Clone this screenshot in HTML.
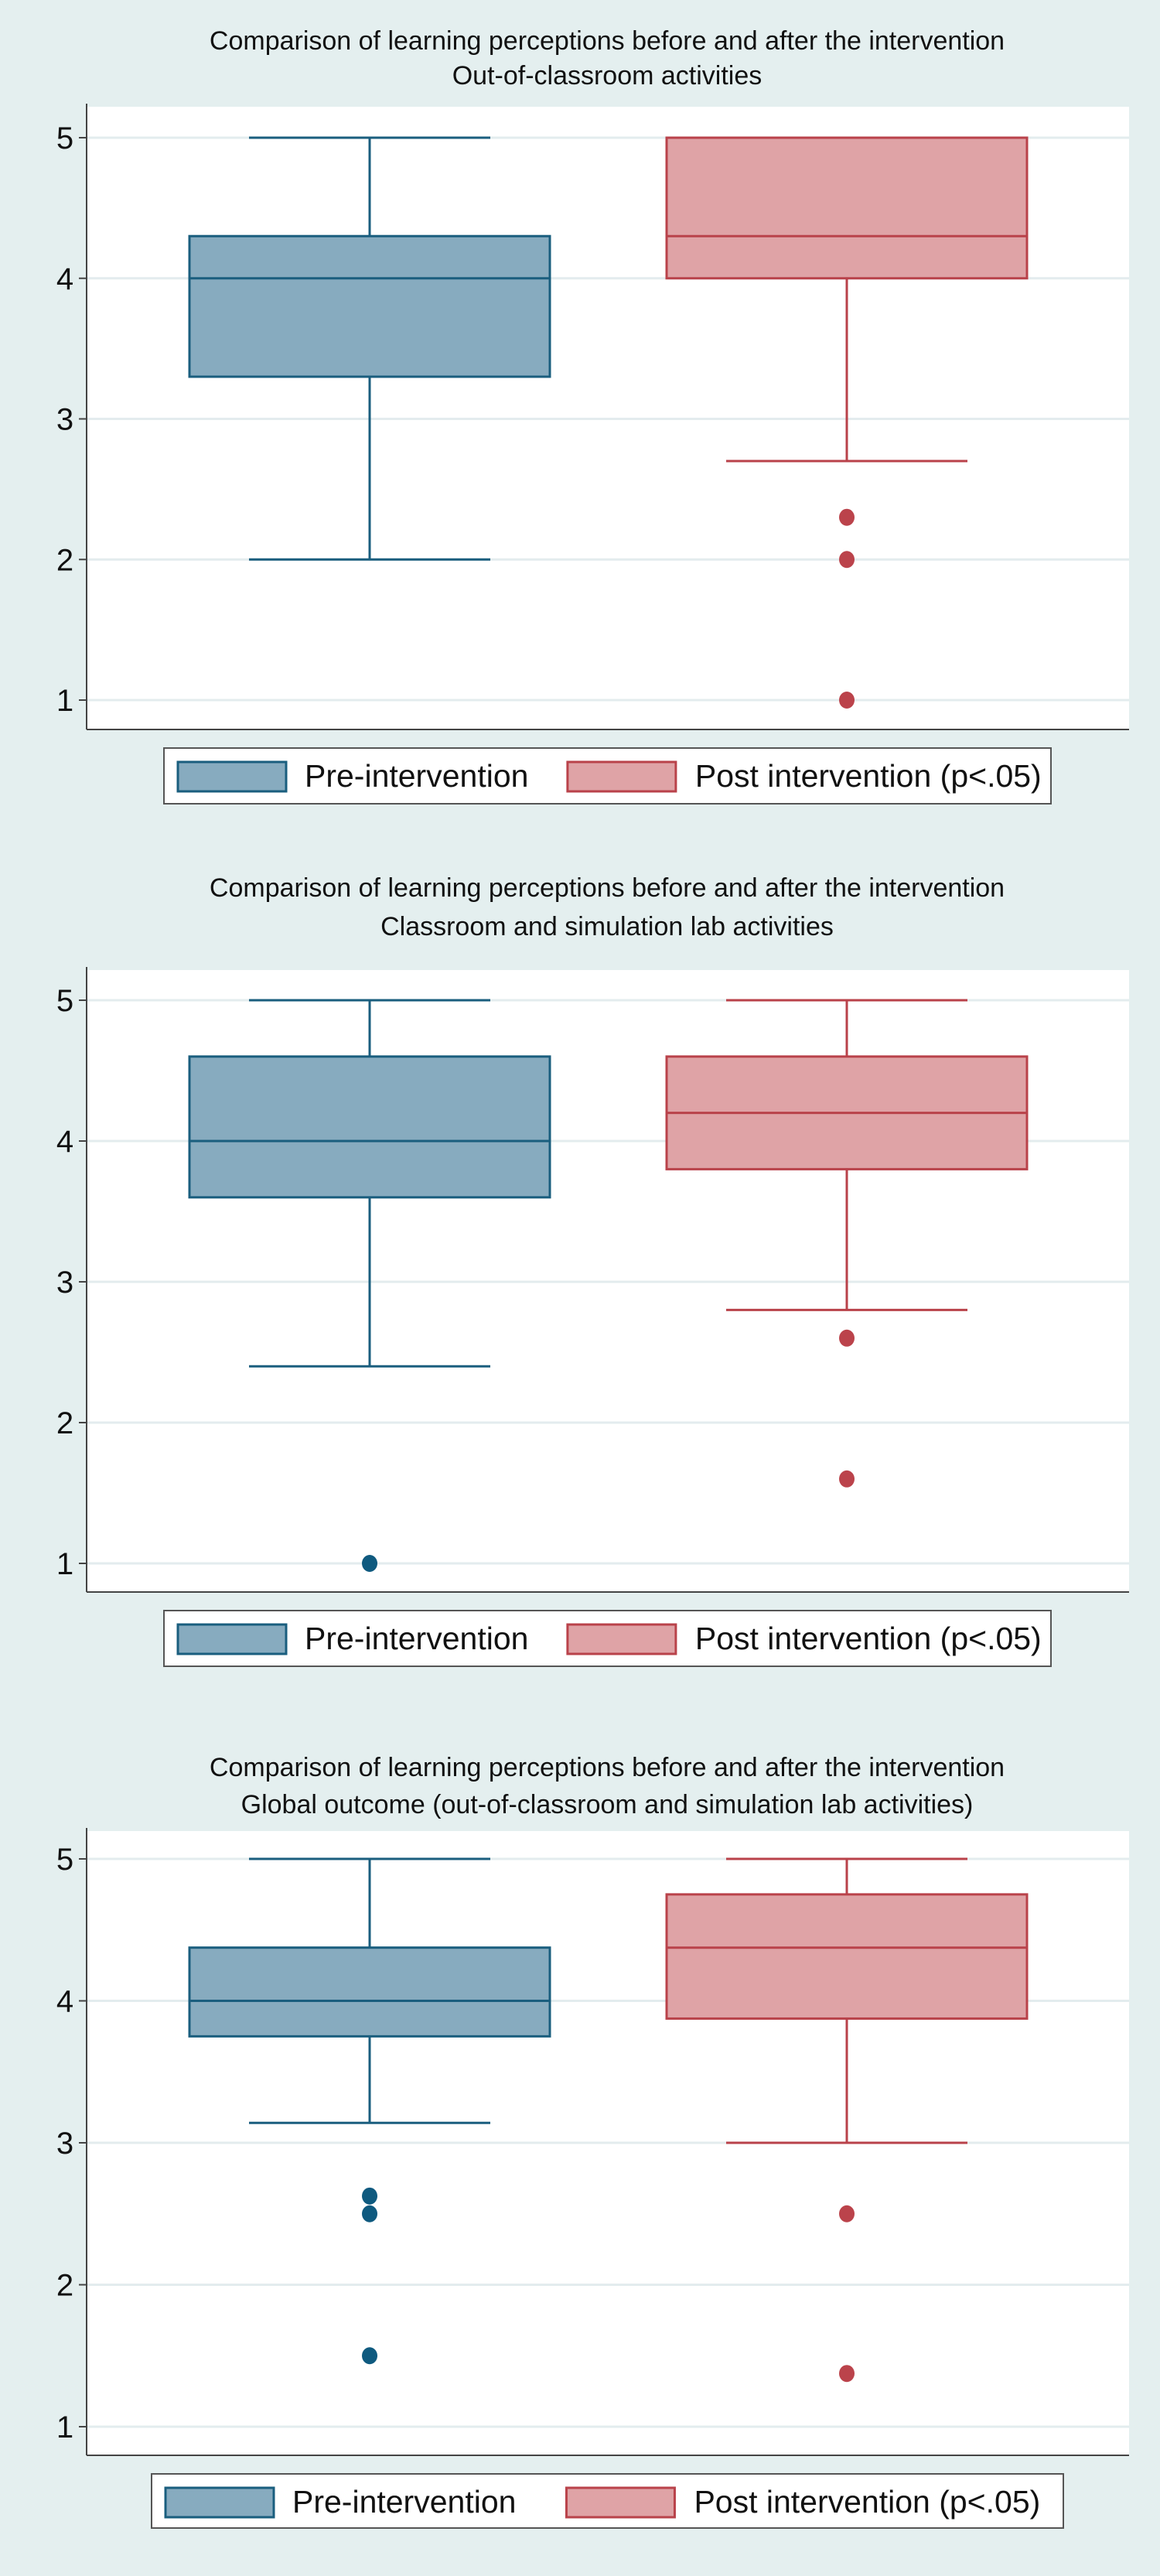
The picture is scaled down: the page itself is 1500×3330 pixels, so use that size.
<!DOCTYPE html>
<html><head><meta charset="utf-8">
<style>
html,body{margin:0;padding:0;background:#e4efef;}
svg{display:block;}
text{font-family:"Liberation Sans",sans-serif;}
</style></head>
<body>
<svg id="root" width="1500" height="3330" viewBox="0 0 1500 3330" xmlns="http://www.w3.org/2000/svg">
<rect x="0" y="0" width="1500" height="3330" fill="#e4efef"/>
</svg>
<script>
// Chart data
const chartTitles = ["Out-of-classroom activities", "Classroom and simulation lab activities", "Global outcome (out-of-classroom and simulation lab activities)"];
const groupNames = ["Pre-intervention", "Post intervention (p<.05)"];
const yTicks = [1, 2, 3, 4, 5];
// [whiskerLow, q1, median, q3, whiskerHigh] per chart per group
const preStats = [[2, 3.3, 4, 4.3, 5], [2.4, 3.6, 4, 4.6, 5], [3.14, 3.75, 4, 4.375, 5]];
const postStats = [[2.7, 4, 4.3, 5, 5], [2.8, 3.8, 4.2, 4.6, 5], [3, 3.875, 4.375, 4.75, 5]];
const preOutliers = [[], [1], [2.625, 2.5, 1.5]];
const postOutliers = [[2.3, 2, 1], [2.6, 1.6], [2.5, 1.375]];

const layouts = [
  {t1:53,t2:98,top:138,bottom:943,y5:178,y1:905,lg:[212,967,1147,72]},
  {t1:1148,t2:1198,top:1254,bottom:2058,y5:1293,y1:2021,lg:[212,2082,1147,72]},
  {t1:2285,t2:2333,top:2367,bottom:3174,y5:2403,y1:3137,lg:[196,3198,1179,70]}
];
const NS="http://www.w3.org/2000/svg";
const root=document.getElementById('root');
function mk(tag,attrs,parent){const e=document.createElementNS(NS,tag);for(const k in attrs)e.setAttribute(k,attrs[k]);(parent||root).appendChild(e);return e;}
const colors=[{fill:"#87abbf",stroke:"#1a5e7e",dot:"#0f5a7f"},{fill:"#dfa3a6",stroke:"#b9424a",dot:"#bb434b"}];
const centers=[478,1095], halfBox=233, halfCap=156, left=112, right=1460;

layouts.forEach((L,ci)=>{
  const g=mk('g',{});
  
  
  const yS=v=>L.y1+(v-1)*(L.y5-L.y1)/4;
  let t=mk('text',{x:785,y:L.t1+11,'font-size':34,'text-anchor':'middle',fill:'#111'},g);
  t.textContent="Comparison of learning perceptions before and after the intervention";
  
  
  t=mk('text',{x:785,y:L.t2+11,'font-size':34,'text-anchor':'middle',fill:'#111'},g);
  t.textContent=chartTitles[ci];
  
  
  const pa=mk('rect',{x:left,y:L.top,width:right-left,height:L.bottom-L.top,fill:'#fff'},g);
  
  
  yTicks.forEach(v=>{
    const y=yS(v);
    const gl=mk('line',{x1:left,x2:right,y1:y,y2:y,stroke:'#e3ecee','stroke-width':3},g);
    
    
    mk('line',{x1:left-10,x2:left,y1:y,y2:y,stroke:'#444','stroke-width':2},g);
    const tl=mk('text',{x:84,y:y+14,'font-size':40,'text-anchor':'middle',fill:'#111'},g);
    tl.textContent=v;
    
    
  });
  mk('line',{x1:left,x2:left,y1:L.top-4,y2:L.bottom,stroke:'#444','stroke-width':2},g);
  mk('line',{x1:left,x2:right,y1:L.bottom,y2:L.bottom,stroke:'#444','stroke-width':2},g);
  [preStats[ci],postStats[ci]].forEach((s,gi)=>{
    const c=colors[gi],cx=centers[gi];
    const bg=mk('g',{},g);
    
    
    mk('line',{x1:cx,x2:cx,y1:yS(s[0]),y2:yS(s[1]),stroke:c.stroke,'stroke-width':3},bg);
    mk('line',{x1:cx,x2:cx,y1:yS(s[3]),y2:yS(s[4]),stroke:c.stroke,'stroke-width':3},bg);
    mk('line',{x1:cx-halfCap,x2:cx+halfCap,y1:yS(s[0]),y2:yS(s[0]),stroke:c.stroke,'stroke-width':3},bg);
    mk('line',{x1:cx-halfCap,x2:cx+halfCap,y1:yS(s[4]),y2:yS(s[4]),stroke:c.stroke,'stroke-width':3},bg);
    mk('rect',{x:cx-halfBox,y:yS(s[3]),width:2*halfBox,height:yS(s[1])-yS(s[3]),fill:c.fill,stroke:c.stroke,'stroke-width':3},bg);
    mk('line',{x1:cx-halfBox,x2:cx+halfBox,y1:yS(s[2]),y2:yS(s[2]),stroke:c.stroke,'stroke-width':3},bg);
    (gi?postOutliers[ci]:preOutliers[ci]).forEach(v=>{
      const d=mk('ellipse',{cx:cx,cy:yS(v),rx:10,ry:11,fill:c.dot},bg);
      
      
    });
  });
  const [lx,ly,lw,lh]=L.lg;
  const lg=mk('g',{},g);
  
  
  mk('rect',{x:lx,y:ly,width:lw,height:lh,fill:'#fff',stroke:'#555','stroke-width':2},lg);
  const sx=[lx+18,lx+lw*0.455], tx=[lx+182,lx+lw*0.455+165];
  groupNames.forEach((n,gi)=>{
    const r=mk('rect',{x:sx[gi],y:ly+18,width:140,height:38,fill:colors[gi].fill,stroke:colors[gi].stroke,'stroke-width':3},lg);
    
    
    const tt=mk('text',{x:tx[gi],y:ly+50,'font-size':41,fill:'#111'},lg);
    tt.textContent=n;
    
    
  });
});
</script>
</body></html>
